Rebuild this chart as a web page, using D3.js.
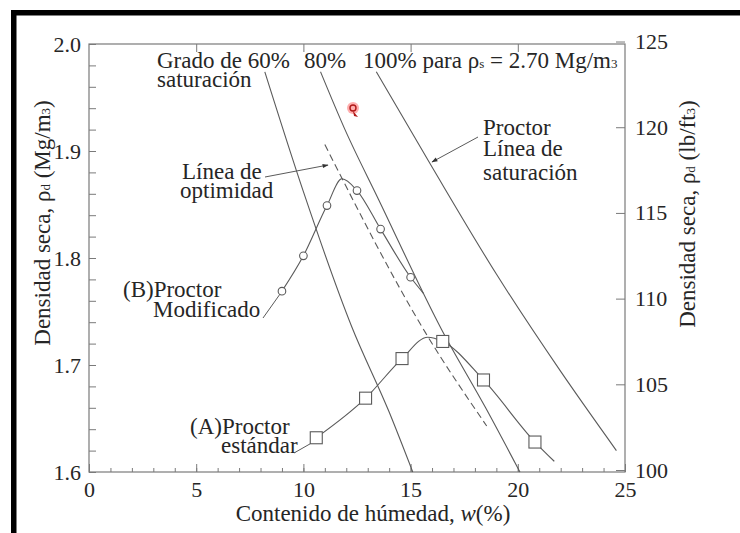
<!DOCTYPE html>
<html>
<head>
<meta charset="utf-8">
<script src="https://cdn.jsdelivr.net/npm/d3@7"></script>
<style>
  body { margin: 0; background: #fff; }
  svg { display: block; }
  svg text { font-family: "Liberation Serif", Tinos, "Times New Roman", Times, "DejaVu Serif", serif; fill: #262626; }
</style>
</head>
<body>
<div id="chart"></div>
<script>
// axis ticks
const xTicks = [0, 5, 10, 15, 20, 25];
const yTicks = [1.6, 1.7, 1.8, 1.9, 2.0];
const rightTicks = [100, 105, 110, 115, 120, 125]; // lb/ft3
const lbToMg = 0.0160185;

// (B) Proctor modificado - measured points
const modW = [9.0, 10.0, 11.1, 12.5, 13.6, 15.0];
const modRho = [1.769, 1.802, 1.849, 1.863, 1.827, 1.782];
// drawn curve through the points (peak + tail)
const modCurve = [[9.0, 1.769], [10.0, 1.802], [11.1, 1.849], [11.8, 1.874], [12.5, 1.863],
                  [13.6, 1.827], [15.0, 1.782], [15.6, 1.767]];

// (A) Proctor estándar
const stdW = [10.6, 12.9, 14.6, 16.5, 18.4, 20.8];
const stdRho = [1.632, 1.669, 1.706, 1.722, 1.686, 1.628];
const stdCurve = [[10.6, 1.632], [12.9, 1.669], [14.6, 1.706], [15.8, 1.726], [16.5, 1.722],
                  [18.4, 1.686], [20.8, 1.628], [21.7, 1.610]];

// saturation lines
const sat60 = [[8.2, 1.974], [10.0, 1.862], [12.25, 1.736], [14.0, 1.656], [15.1, 1.600]];
const sat80 = [[10.8, 1.974], [11.94, 1.920], [13.5, 1.855], [16.45, 1.733], [18.5, 1.660], [20.1, 1.600]];
const sat100 = [[13.4, 1.974], [16.0, 1.885], [19.0, 1.785], [22.0, 1.694], [24.6, 1.620]];

// línea de optimidad (dashed)
const optLine = [[11.0, 1.906], [15.7, 1.730], [18.55, 1.643]];

const width = 740, height = 533;
const serif = '"Liberation Serif", Tinos, "Times New Roman", Times, "DejaVu Serif", serif';
const svg = d3.select("#chart").append("svg")
    .attr("width", width)
    .attr("height", height)
    .attr("font-family", serif);

// black frame (top + left)
svg.append("rect").attr("x", 11).attr("y", 10).attr("width", width - 11).attr("height", 5.5).attr("fill", "#000");
svg.append("rect").attr("x", 11).attr("y", 10).attr("width", 5.5).attr("height", height - 10).attr("fill", "#000");

const x = d3.scaleLinear().domain([0, 25]).range([89, 625]);
const y = d3.scaleLinear().domain([1.6, 2.0]).range([472, 44]);
const yR = d3.scaleLinear().domain([1.6 / lbToMg, 2.0 / lbToMg]).range([472, 44]);

const axisColor = "#7a7a7a";
const lineColor = "#5a5a5a";

function styleAxis(g, size) {
    g.attr("font-family", serif);
    g.selectAll(".domain").remove();
    g.selectAll("line").attr("stroke", axisColor);
    g.selectAll("text").attr("font-size", size).attr("fill", "#2a2a2a");
}

// frame of the plot
svg.append("rect")
    .attr("x", x(0)).attr("y", y(2.0))
    .attr("width", x(25) - x(0)).attr("height", y(1.6) - y(2.0))
    .attr("fill", "none").attr("stroke", axisColor).attr("stroke-width", 1.2);

// bottom: minor + major
svg.append("g").attr("transform", `translate(0,${y(1.6)})`)
    .call(d3.axisBottom(x).tickValues(d3.range(0, 26)).tickSize(-4).tickFormat(""))
    .call(g => styleAxis(g, 22));
svg.append("g").attr("transform", `translate(0,${y(1.6)})`)
    .call(d3.axisBottom(x).tickValues(xTicks).tickSize(-8).tickPadding(9).tickFormat(d3.format("d")))
    .call(g => styleAxis(g, 22));

// top ticks
svg.append("g").attr("transform", `translate(0,${y(2.0)})`)
    .call(d3.axisTop(x).tickValues([5, 10, 15, 20]).tickSize(-8).tickFormat(""))
    .call(g => styleAxis(g, 22));

// left: minor every 0.02, labels on the tenths
const yMinor = d3.range(0, 21).map(i => +(1.6 + i * 0.02).toFixed(2));
svg.append("g").attr("transform", `translate(${x(0)},0)`)
    .call(d3.axisLeft(y).tickValues(yMinor).tickSize(-7).tickPadding(8)
        .tickFormat(d => yTicks.some(t => Math.abs(t - d) < 1e-6) ? d3.format(".1f")(d) : ""))
    .call(g => styleAxis(g, 22));

// right axis in lb/ft3
svg.append("g").attr("transform", `translate(${x(25)},0)`)
    .call(d3.axisRight(yR).tickValues(rightTicks).tickSize(-9).tickPadding(10))
    .call(g => styleAxis(g, 22));

// axis titles
svg.append("text")
    .attr("x", 373).attr("y", 521)
    .attr("text-anchor", "middle").attr("font-size", 23)
    .call(t => {
        t.append("tspan").text("Contenido de húmedad, ");
        t.append("tspan").attr("font-style", "italic").text("w");
        t.append("tspan").text("(%)");
    });

function densTitle(t, unitA) {
    t.append("tspan").text("Densidad seca, ρ");
    t.append("tspan").attr("font-size", 13).text("d");
    t.append("tspan").text(" (" + unitA);
    t.append("tspan").attr("font-size", 13).text("3");
    t.append("tspan").text(")");
}
svg.append("text")
    .attr("transform", "translate(50,223) rotate(-90)")
    .attr("text-anchor", "middle").attr("font-size", 23)
    .call(t => densTitle(t, "Mg/m"));
svg.append("text")
    .attr("transform", "translate(695,214) rotate(-90)")
    .attr("text-anchor", "middle").attr("font-size", 23)
    .call(t => densTitle(t, "lb/ft"));

// curves
const line = d3.line().x(d => x(d[0])).y(d => y(d[1])).curve(d3.curveMonotoneX);

const plot = svg.append("g");
[sat60, sat80, sat100].forEach(s => {
    plot.append("path").attr("d", line(s))
        .attr("fill", "none").attr("stroke", lineColor).attr("stroke-width", 1.1);
});
plot.append("path").attr("d", line(optLine))
    .attr("fill", "none").attr("stroke", lineColor).attr("stroke-width", 1.1)
    .attr("stroke-dasharray", "7,4");
plot.append("path").attr("d", line(modCurve))
    .attr("fill", "none").attr("stroke", lineColor).attr("stroke-width", 1.1);
plot.append("path").attr("d", line(stdCurve))
    .attr("fill", "none").attr("stroke", lineColor).attr("stroke-width", 1.1);

// markers
plot.selectAll("circle.mod")
    .data(modW.map((w, i) => [w, modRho[i]]))
    .join("circle")
    .attr("class", "mod")
    .attr("cx", d => x(d[0])).attr("cy", d => y(d[1]))
    .attr("r", 3.8)
    .attr("fill", "#fff").attr("stroke", lineColor).attr("stroke-width", 1.1);

const sq = 12;
plot.selectAll("rect.std")
    .data(stdW.map((w, i) => [w, stdRho[i]]))
    .join("rect")
    .attr("class", "std")
    .attr("x", d => x(d[0]) - sq / 2).attr("y", d => y(d[1]) - sq / 2)
    .attr("width", sq).attr("height", sq)
    .attr("fill", "#fff").attr("stroke", lineColor).attr("stroke-width", 1.1);

// annotations
const ann = svg.append("g").attr("font-size", 23);
function label(xp, yp, str) {
    return ann.append("text").attr("x", xp).attr("y", yp).text(str);
}
label(157, 68, "Grado de 60%");
label(157, 87, "saturación");
label(304, 68, "80%");
ann.append("text").attr("x", 363).attr("y", 68).call(t => {
    t.append("tspan").text("100% para ρ");
    t.append("tspan").attr("font-size", 13).text("s");
    t.append("tspan").text(" = 2.70 Mg/m");
    t.append("tspan").attr("font-size", 13).text("3");
});
label(483, 135, "Proctor");
label(483, 156, "Línea de");
label(483, 180, "saturación");
label(182, 179, "Línea de");
label(180, 198, "optimidad");
label(123, 297, "(B)Proctor");
label(153, 317, "Modificado");
label(190, 434, "(A)Proctor");
label(221, 453, "estándar");

// arrows and leaders
svg.append("defs").append("marker")
    .attr("id", "arr").attr("viewBox", "0 0 10 10")
    .attr("refX", 9).attr("refY", 5)
    .attr("markerWidth", 9).attr("markerHeight", 6)
    .attr("orient", "auto")
    .append("path").attr("d", "M0,1.5L10,5L0,8.5z").attr("fill", "#333");

const leaders = svg.append("g").attr("stroke", lineColor).attr("stroke-width", 1);
leaders.append("line").attr("x1", 478).attr("y1", 137).attr("x2", 432).attr("y2", 162)
    .attr("marker-end", "url(#arr)");
leaders.append("line").attr("x1", 265).attr("y1", 177).attr("x2", 328).attr("y2", 165)
    .attr("marker-end", "url(#arr)");
leaders.append("line").attr("x1", 263).attr("y1", 318).attr("x2", x(modW[0]) - 2).attr("y2", y(modRho[0]) + 3);
leaders.append("line").attr("x1", 294).attr("y1", 453).attr("x2", x(stdW[0]) - sq / 2).attr("y2", y(stdRho[0]) + sq / 2);

// little red cursor mark on the scan
const mark = svg.append("g").attr("transform", "translate(353,108)");
mark.append("circle").attr("r", 6).attr("fill", "#ff6b6b").attr("opacity", 0.55);
mark.append("circle").attr("r", 3).attr("fill", "none").attr("stroke", "#b01818").attr("stroke-width", 1.4);
mark.append("path").attr("d", "M0,3L5,9L1,8z").attr("fill", "#b01818");
</script>
</body>
</html>
